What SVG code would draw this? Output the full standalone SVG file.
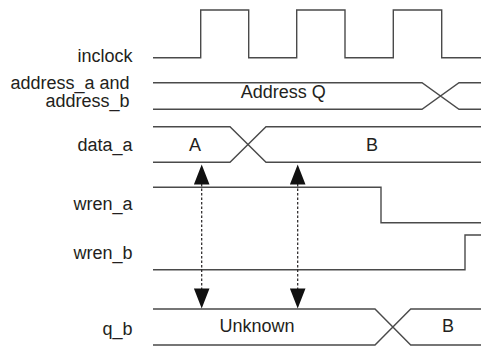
<svg xmlns="http://www.w3.org/2000/svg" width="481" height="347" viewBox="0 0 481 347">
<style>
.lbl{font-family:"Liberation Sans",Arial,sans-serif;font-size:18px;fill:#231f20}
.r{text-anchor:end}
.c{text-anchor:middle}
.w{fill:none;stroke:#4a4a4a;stroke-width:1.4}
.d{fill:none;stroke:#231f20;stroke-width:1.2;stroke-dasharray:2.5 2}
.ah{fill:#111}
</style>
<rect width="481" height="347" fill="#fff"/>
<g id="inclock">
<text class="lbl r" x="132.5" y="62">inclock</text>
<path class="w" d="M153 57.7H200.7V10H248.7V57.7H296.7V10H345V57.7H393.3V10H441.7V57.7H481"/>
</g>
<g id="address">
<text class="lbl r" x="129.5" y="88.5">address_a and</text>
<text class="lbl r" x="129.5" y="107">address_b</text>
<path class="w" d="M153 82.7H422L459 109.3H481M153 109.3H422L459 82.7H481"/>
<text class="lbl c" x="283.3" y="98.3">Address Q</text>
</g>
<g id="data_a">
<text class="lbl r" x="132.5" y="150.5">data_a</text>
<path class="w" d="M153 126.7H230L266 162.3H481M153 162.3H230L266 126.7H481"/>
<text class="lbl c" x="195" y="150.5">A</text>
<text class="lbl c" x="372" y="150.5">B</text>
</g>
<g id="wren_a">
<text class="lbl r" x="132.5" y="210">wren_a</text>
<path class="w" d="M153 187.3H381V222.7H481"/>
</g>
<g id="wren_b">
<text class="lbl r" x="132.5" y="259">wren_b</text>
<path class="w" d="M153 269.7H465V235H481"/>
</g>
<g id="q_b">
<text class="lbl r" x="132.5" y="335">q_b</text>
<path class="w" d="M153 309H375L410.7 345H481M153 345H375L410.7 309H481"/>
<text class="lbl c" x="257" y="331.7">Unknown</text>
<text class="lbl c" x="448" y="331.7">B</text>
</g>
<g id="connectors">
<path class="d" d="M201.7 184V289M297.7 184V289"/>
<path class="ah" d="M201.7 164.5L209.5 184.5H193.9ZM297.7 164.5L305.5 184.5H289.9Z"/>
<path class="ah" d="M201.7 308.5L209.5 288.5H193.9ZM297.7 308.5L305.5 288.5H289.9Z"/>
</g>
</svg>
